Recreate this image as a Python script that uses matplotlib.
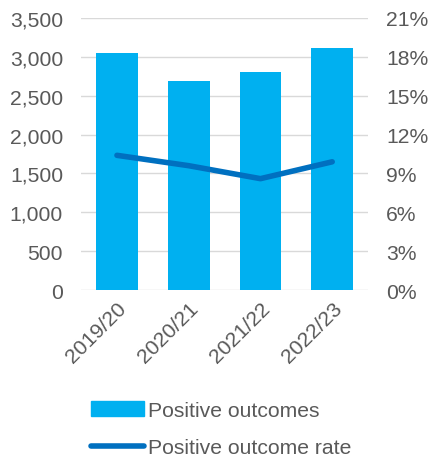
import numpy as np
import matplotlib.pyplot as plt
from matplotlib.patches import Patch
from matplotlib.lines import Line2D
from matplotlib.ticker import FuncFormatter

years = ["2019/20", "2020/21", "2021/22", "2022/23"]
outcomes = [3053, 2683, 2807, 3117]
rate = [10.4, 9.6, 8.6, 9.9]

grey = "#595959"
plt.rcParams['font.family'] = ['Liberation Sans', 'DejaVu Sans']
fs = 15.2

fig = plt.figure(figsize=(4.29, 4.60), dpi=100)
ax = fig.add_axes([0.189, 0.367, 0.669, 0.592])
ax2 = ax.twinx()

x = np.arange(len(years))
ax.bar(x, outcomes, width=0.58, color="#00B0F0", zorder=2)
ax2.plot(x, rate, color="#0070C0", linewidth=4, solid_capstyle='round', zorder=3)

ax.set_ylim(0, 3500)
ax.set_yticks(np.arange(0, 3501, 500))
ax.yaxis.set_major_formatter(FuncFormatter(lambda v, p: f"{int(v):,}"))
ax2.set_ylim(0, 21)
ax2.set_yticks(np.arange(0, 22, 3))
ax2.yaxis.set_major_formatter(FuncFormatter(lambda v, p: f"{int(v)}%"))

ax.set_xlim(-0.5, 3.5)
ax.set_xticks(x)
ax.set_xticklabels(years, rotation=45, ha='right', rotation_mode='anchor')
ax.grid(axis='y', color="#D9D9D9", linewidth=1, zorder=0)
ax.set_axisbelow(True)

for a in (ax, ax2):
    for s in a.spines.values():
        s.set_visible(False)
    a.tick_params(length=0, colors=grey, labelsize=fs)
ax.tick_params(axis='y', pad=13)
ax2.tick_params(axis='y', pad=13)
ax.tick_params(axis='x', pad=6)

handles = [Patch(color="#00B0F0"), Line2D([], [], color="#0070C0", linewidth=4, solid_capstyle='round')]
fig.legend(handles, ["Positive outcomes", "Positive outcome rate"], loc='upper left',
           bbox_to_anchor=(0.213, 0.126), frameon=False, handlelength=2.5,
           handletextpad=0.2, labelspacing=0.85, labelcolor=grey, fontsize=fs,
           borderaxespad=0, borderpad=0)

fig.savefig("out.png", dpi=100)
